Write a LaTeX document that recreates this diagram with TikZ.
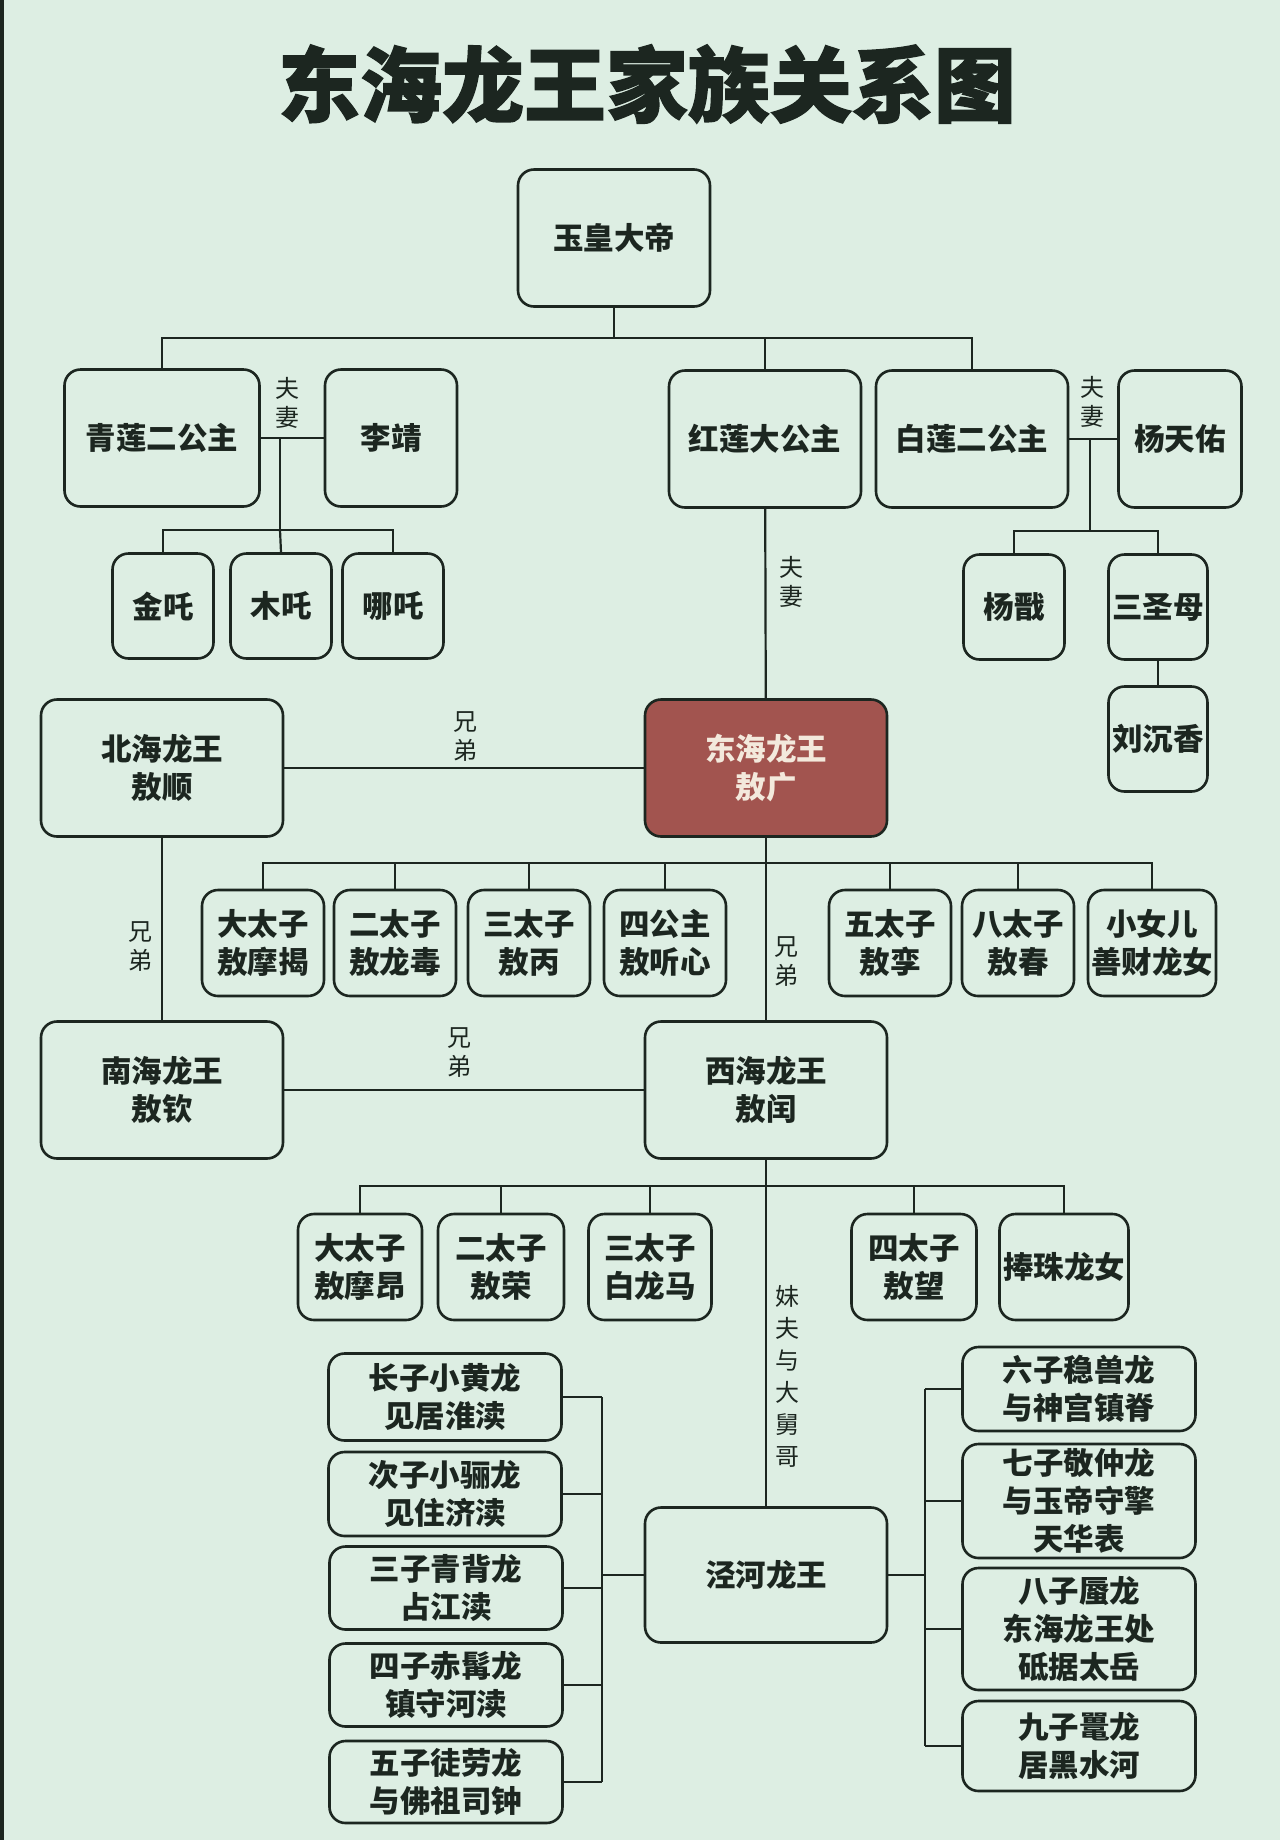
\documentclass[tikz,border=0pt]{standalone}
\usepackage{fontspec}
\setmainfont{Noto Sans CJK SC}
\newfontfamily\headfont{Noto Sans CJK SC}[BoldFeatures={FakeBold=1.6}]
\usepackage{xcolor}
\usepackage{tikz}
\usetikzlibrary{positioning,calc}
\definecolor{bgmint}{HTML}{DDEEE3}
\definecolor{inkline}{HTML}{1C2620}
\definecolor{searust}{HTML}{A2544F}
\definecolor{seacream}{HTML}{F3E9DC}
\tikzset{
  famtitle/.style={inner sep=0pt, text=inkline, font=\headfont\fontsize{82}{84}\selectfont\bfseries},
  fambox/.style={rectangle, rounded corners=16pt, draw=inkline, line width=2.6pt, align=center, inner sep=0pt, text=inkline, font=\fontsize{30.5}{38}\selectfont\bfseries},
  topbox/.style={fambox, minimum width=192pt, minimum height=137pt},
  kingbox/.style={fambox, minimum width=242pt, minimum height=137pt},
  kingmain/.style={kingbox, fill=searust, text=seacream},
  kidbox/.style={fambox, minimum width=101pt, minimum height=105pt},
  princebox/.style={fambox, minimum width=122pt, minimum height=106pt},
  sonbox/.style={fambox, minimum width=233pt},
  famline/.style={draw=inkline, line width=2.2pt},
  tielabel/.style={inner sep=0pt, align=center, text=inkline, font=\fontsize{24}{29}\selectfont}
}

\begin{document}
\begin{tikzpicture}[x=1pt, y=-1pt]
\fill[bgmint] (0,0) rectangle (1280,1840);
\useasboundingbox (0,0) rectangle (1280,1840);
\fill[inkline] (0,0) rectangle (4,1840);

\node[famtitle] (title) at (647,84) {东海龙王家族关系图};

\node[topbox] (yh) at (614,238) {玉皇大帝};
\node[topbox, minimum width=195pt] (ql) at (162,438) {青莲二公主};
\node[topbox, minimum width=132pt] (lj) at (391,438) {李靖};
\node[topbox] (hl) at (765,439) {红莲大公主};
\node[topbox] (bl) at (972,439) {白莲二公主};
\node[topbox, minimum width=123pt] (yt) at (1180,439) {杨天佑};

\node[kidbox] (jz) at (163,606) {金吒};
\node[kidbox] (mz) at (281,606) {木吒};
\node[kidbox] (nz) at (393,606) {哪吒};
\node[kidbox] (yj) at (1014,607) {杨戬};
\node[kidbox, minimum width=99pt] (sm) at (1158,607) {三圣母};
\node[kidbox, minimum width=99pt] (lc) at (1158,739) {刘沉香};

\node[kingbox] (bh) at (162,768) {北海龙王\\敖顺};
\node[kingmain] (dh) at (766,768) {东海龙王\\敖广};
\node[kingbox] (nh) at (162,1090) {南海龙王\\敖钦};
\node[kingbox] (xh) at (766,1090) {西海龙王\\敖闰};
\node[kingbox, minimum height=135pt] (jh) at (766,1575) {泾河龙王};

\node[princebox] (d1) at (263,943) {大太子\\敖摩揭};
\node[princebox] (d2) at (395,943) {二太子\\敖龙毒};
\node[princebox] (d3) at (529,943) {三太子\\敖丙};
\node[princebox] (d4) at (665,943) {四公主\\敖听心};
\node[princebox] (d5) at (890,943) {五太子\\敖孪};
\node[princebox, minimum width=112pt] (d6) at (1018,943) {八太子\\敖春};
\node[princebox, minimum width=128pt] (d7) at (1152,943) {小女儿\\善财龙女};

\node[princebox, minimum width=124pt] (x1) at (360,1267) {大太子\\敖摩昂};
\node[princebox, minimum width=126pt] (x2) at (501,1267) {二太子\\敖荣};
\node[princebox, minimum width=123pt] (x3) at (650,1267) {三太子\\白龙马};
\node[princebox, minimum width=125pt] (x4) at (914,1267) {四太子\\敖望};
\node[princebox, minimum width=129pt] (x5) at (1064,1267) {捧珠龙女};

\node[sonbox, minimum height=87pt] (j1) at (445,1397) {长子小黄龙\\见居淮渎};
\node[sonbox, minimum height=84pt] (j2) at (445,1494) {次子小骊龙\\见住济渎};
\node[sonbox, minimum height=83pt] (j3) at (446,1588) {三子青背龙\\占江渎};
\node[sonbox, minimum height=83pt] (j4) at (446,1685) {四子赤髯龙\\镇守河渎};
\node[sonbox, minimum height=82pt] (j5) at (446,1782) {五子徒劳龙\\与佛祖司钟};
\node[sonbox, minimum height=84pt] (j6) at (1079,1389) {六子稳兽龙\\与神宫镇脊};
\node[sonbox, minimum height=114pt] (j7) at (1079,1501) {七子敬仲龙\\与玉帝守擎\\天华表};
\node[sonbox, minimum height=122pt] (j8) at (1079,1629) {八子蜃龙\\东海龙王处\\砥据太岳};
\node[sonbox, minimum height=90pt] (j9) at (1079,1746) {九子鼍龙\\居黑水河};

\coordinate (yhbus) at (614,338);
\coordinate (qlbus) at (280,530);
\coordinate (blbus) at (1090,531);
\coordinate (dhbus) at (766,863);
\coordinate (xhbus) at (766,1186);
\coordinate (jhleft) at (602,1575);
\coordinate (jhright) at (925,1575);

\draw[famline] (yh) -- (yhbus);
\draw[famline] (yhbus) -| (ql.north);
\draw[famline] (yhbus) -| (bl.north);
\draw[famline] (hl.north) -- (hl.north |- yhbus);

\draw[famline] (ql) -- (lj);
\draw[famline] (ql.east -| qlbus) -- (qlbus);
\draw[famline] (qlbus) -| (jz.north);
\draw[famline] (qlbus) -| (nz.north);
\draw[famline] (qlbus) -- (mz.north);
\node[tielabel] (t1) at (287,403) {夫\\妻};

\draw[famline] (bl) -- (yt);
\draw[famline] (bl.east -| blbus) -- (blbus);
\draw[famline] (blbus) -| (yj.north);
\draw[famline] (blbus) -| (sm.north);
\draw[famline] (sm) -- (lc);
\node[tielabel] (t2) at (1092,402) {夫\\妻};

\draw[famline] (hl) -- (dh);
\node[tielabel] (t3) at (791,582) {夫\\妻};

\draw[famline] (bh) -- (dh);
\node[tielabel] (t4) at (465,737) {兄\\弟};
\draw[famline] (bh) -- (nh);
\node[tielabel] (t5) at (140,947) {兄\\弟};
\draw[famline] (nh) -- (xh);
\node[tielabel] (t6) at (459,1053) {兄\\弟};
\draw[famline] (dh) -- (xh);
\node[tielabel] (t7) at (786,962) {兄\\弟};

\foreach \k in {d1,d2,d3,d4,d5,d6,d7}
  \draw[famline] (dhbus) -| (\k.north);
\foreach \k in {x1,x2,x3,x4,x5}
  \draw[famline] (xhbus) -| (\k.north);

\draw[famline] (xh) -- (jh);
\node[tielabel, font=\fontsize{24}{32}\selectfont] (t8) at (787,1376) {妹\\夫\\与\\大\\舅\\哥};

\draw[famline] (jh) -- (jhleft);
\draw[famline] (jhleft |- j1.east) -- (jhleft |- j5.east);
\foreach \k in {j1,j2,j3,j4,j5}
  \draw[famline] (\k.east) -- (\k.east -| jhleft);
\draw[famline] (jh) -- (jhright);
\draw[famline] (jhright |- j6.west) -- (jhright |- j9.west);
\foreach \k in {j6,j7,j8,j9}
  \draw[famline] (\k.west) -- (\k.west -| jhright);
\end{tikzpicture}
\end{document}
